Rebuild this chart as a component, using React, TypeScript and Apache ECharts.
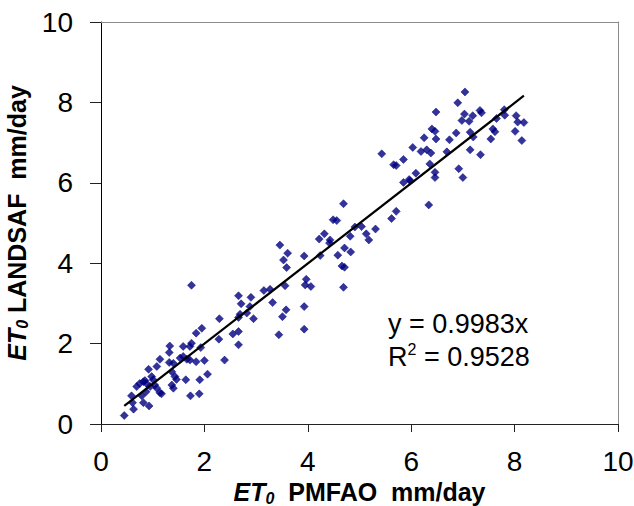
import React, { useEffect, useRef } from "react";
import * as echarts from "echarts";

// ET0 PMFAO (x) and ET0 LANDSAF (y), mm/day
const pmfao = [
  0.45, 0.63, 0.61, 0.59, 0.69, 0.75, 0.82, 0.85, 0.79, 0.82, 0.93, 0.87, 0.92, 0.98, 1.01, 1.04, 1.08,
  0.88, 0.95, 1.14, 1.17, 1.08, 1.14, 1.33, 1.32, 1.32, 1.40, 1.37, 1.43, 1.46, 1.37, 1.40, 1.53, 1.59,
  1.66, 1.59, 1.72, 1.72, 1.64, 1.84, 1.95, 1.84, 2.00, 1.91, 2.06, 1.73, 1.90, 1.75, 1.93, 1.75,
  2.28, 2.29, 2.39, 2.55, 2.66, 2.66, 2.66, 2.71, 2.66, 2.69, 2.82, 2.88, 2.90, 2.95, 3.15, 3.27, 3.32,
  3.56, 3.44, 3.51, 3.58, 3.53, 3.59, 3.61, 3.46,
  3.93, 3.93, 3.97, 3.95, 4.06, 3.93, 4.24, 4.22, 4.32, 4.43, 4.42, 4.58, 4.71, 4.83, 4.66, 4.71, 4.69,
  4.49, 4.56, 4.69, 4.82, 4.91, 5.04, 5.13, 5.18, 5.31, 5.62, 5.71, 5.85, 5.98, 6.34,
  5.43, 5.66, 5.71, 5.85, 5.96, 6.09, 6.03, 6.19, 6.25, 6.30, 6.38, 6.36, 6.46, 6.46, 6.40, 6.46, 6.48,
  6.48, 6.69, 6.74, 6.87, 6.90, 7.04, 6.92, 7.00, 6.98, 7.03, 7.12, 7.19, 7.14, 7.20, 7.14, 7.34, 7.33,
  7.36, 7.54, 7.58, 7.62, 7.65, 7.80, 7.81, 8.01, 8.03, 8.06, 8.14, 8.18,
];
const landsaf = [
  0.21, 0.37, 0.53, 0.70, 0.93, 1.01, 1.05, 1.08, 0.70, 0.53, 0.45, 0.80, 1.36, 1.18, 1.10, 0.97, 0.89,
  1.01, 0.93, 0.78, 0.75, 1.43, 1.61, 1.94, 1.78, 1.53, 1.51, 1.30, 1.18, 1.11, 0.97, 0.89, 1.64, 1.68,
  1.61, 1.93, 1.93, 1.59, 1.10, 2.26, 2.38, 1.55, 1.58, 1.10, 1.24, 0.70, 0.75, 2.01, 1.90, 3.45,
  2.11, 2.62, 1.59, 2.24, 2.30, 1.97, 3.19, 2.99, 2.65, 2.73, 2.76, 2.92, 3.15, 2.62, 3.32, 3.35, 3.02,
  3.44, 2.22, 2.67, 2.84, 4.08, 3.89, 4.25, 4.45,
  2.36, 2.92, 3.60, 3.46, 3.42, 4.18, 4.19, 4.60, 4.73, 4.58, 4.50, 4.20, 4.38, 4.28, 3.93, 3.90, 3.40,
  5.08, 5.06, 5.48, 4.67, 4.90, 4.91, 4.73, 4.58, 4.85, 5.11, 5.29, 6.01, 6.05, 5.45,
  6.72, 6.45, 6.43, 6.58, 6.08, 6.24, 6.88, 6.78, 7.12, 6.82, 6.74, 6.47, 6.26, 6.13, 7.34, 7.28, 7.09,
  7.76, 6.77, 7.07, 7.24, 7.99, 8.26, 6.35, 6.13, 7.55, 7.71, 7.53, 7.67, 7.26, 7.14, 6.82, 6.70, 7.80,
  7.74, 7.09, 7.34, 7.27, 7.60, 7.82, 7.68, 7.28, 7.67, 7.51, 7.05, 7.50,
];
const axisTicks = [0, 2, 4, 6, 8, 10];
const slope = 0.9983;
const r2 = 0.9528;

const FONT = "'Liberation Sans', Arial, sans-serif";

export default function App() {
  const ref = useRef<HTMLDivElement>(null);
  useEffect(() => {
    document.body.style.margin = "0";
    if (!ref.current) return;
    const chart = echarts.init(ref.current, undefined, { renderer: "svg" });
    const pts = pmfao.map((x, i) => [x, landsaf[i]]);
    const xmin = Math.min(...pmfao);
    const xmax = Math.max(...pmfao);
    const tMin = axisTicks[0];
    const tMax = axisTicks[axisTicks.length - 1];
    const step = axisTicks[1] - axisTicks[0];
    const nameRich = {
      i: { fontFamily: FONT, fontSize: 25, fontWeight: "bold", fontStyle: "italic", color: "#000", lineHeight: 28 },
      s: { fontFamily: FONT, fontSize: 16, fontWeight: "bold", fontStyle: "italic", color: "#000", lineHeight: 12, verticalAlign: "bottom" },
      b: { fontFamily: FONT, fontSize: 25, fontWeight: "bold", color: "#000", lineHeight: 28 },
    };
    const labelStyle = { fontFamily: FONT, fontSize: 28, color: "#000" };
    chart.setOption({
      animation: false,
      backgroundColor: "#fff",
      grid: { left: 101, right: 16, top: 22, bottom: 82, outerBoundsMode: "none", containLabel: false },
      xAxis: [
        {
          type: "value", min: tMin, max: tMax, interval: step, position: "bottom",
          axisLine: { onZero: false, lineStyle: { color: "#222", width: 1 } },
          axisTick: { length: 8, lineStyle: { color: "#222" } },
          axisLabel: { ...labelStyle, margin: 23 },
          splitLine: { show: false },
          name: "{i|ET}{s|0}{b|  PMFAO  mm/day}",
          nameLocation: "middle", nameGap: 53,
          nameTextStyle: { rich: nameRich },
        },
        {
          type: "value", min: tMin, max: tMax, interval: step, position: "top",
          axisLine: { onZero: false, lineStyle: { color: "#8a8a8a", width: 1 } },
          axisTick: { show: false }, axisLabel: { show: false }, splitLine: { show: false },
        },
      ],
      yAxis: [
        {
          type: "value", min: tMin, max: tMax, interval: step, position: "left",
          axisLine: { onZero: false, lineStyle: { color: "#000", width: 1 } },
          axisTick: { length: 11, lineStyle: { color: "#222" } },
          axisLabel: { ...labelStyle, margin: 28 },
          splitLine: { show: false },
          name: "{i|ET}{s|0}{b| LANDSAF  mm/day}",
          nameLocation: "middle", nameRotate: 90, nameGap: 64,
          nameTextStyle: { rich: nameRich },
        },
        {
          type: "value", min: tMin, max: tMax, interval: step, position: "right",
          axisLine: { onZero: false, lineStyle: { color: "#8a8a8a", width: 1 } },
          axisTick: { show: false }, axisLabel: { show: false }, splitLine: { show: false },
        },
      ],
      series: [
        {
          type: "scatter",
          data: pts,
          symbol: "diamond",
          symbolSize: 8,
          itemStyle: { color: "#000080", borderColor: "#000080", borderWidth: 0.6 },
        },
        {
          type: "line",
          data: [[xmin, slope * xmin], [xmax, slope * xmax]],
          symbol: "none",
          lineStyle: { color: "#000", width: 2.2 },
        },
      ],
      graphic: [
        {
          type: "text", left: 388, top: 310,
          style: { text: `y = ${slope}x`, font: `27px ${FONT}`, fill: "#000" },
        },
        {
          type: "text", left: 388, top: 341,
          style: {
            text: `{a|R}{s|2}{a| = ${r2}}`,
            rich: {
              a: { fontFamily: FONT, fontSize: 27, color: "#000", lineHeight: 32 },
              s: { fontFamily: FONT, fontSize: 16, color: "#000", lineHeight: 16, verticalAlign: "top" },
            },
          },
        },
      ],
    });
    return () => chart.dispose();
  }, []);
  return <div ref={ref} style={{ width: 634, height: 506 }} />;
}
